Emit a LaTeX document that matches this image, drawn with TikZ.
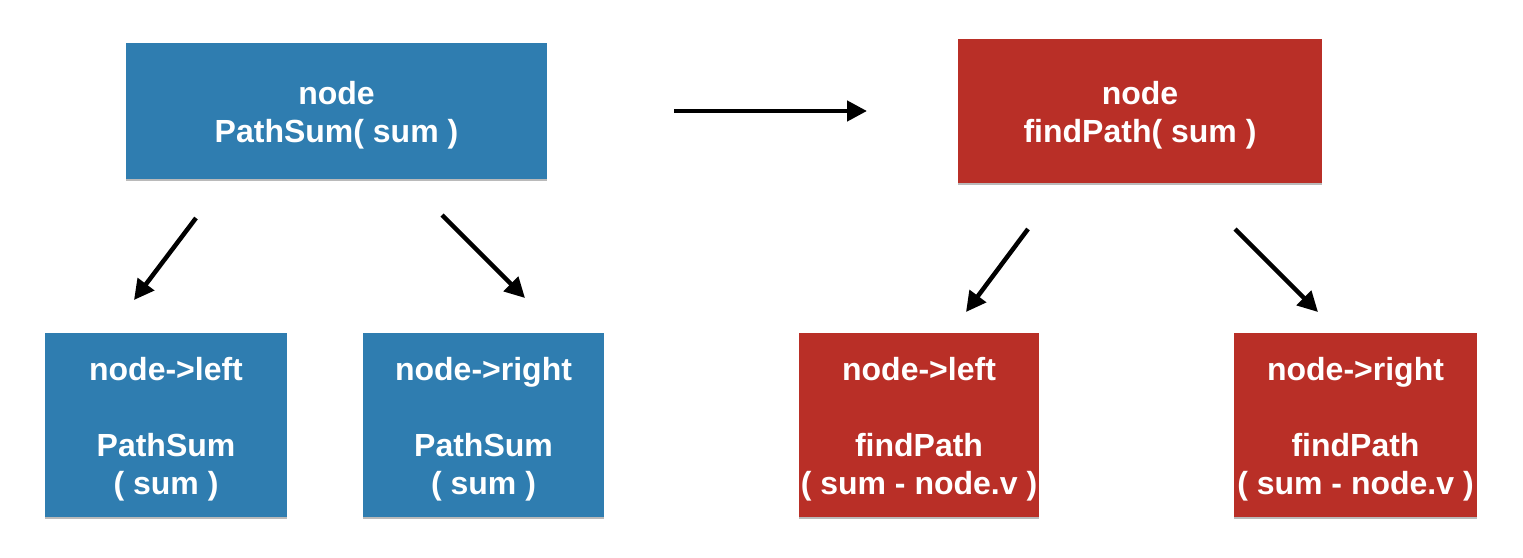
\documentclass[tikz,border=0pt]{standalone}
\usepackage{fontspec}
\setmainfont{Liberation Sans}
\usetikzlibrary{arrows.meta,shadows}
\definecolor{boxblue}{RGB}{47,125,176}
\definecolor{boxred}{RGB}{185,47,39}
\begin{document}
\begin{tikzpicture}[x=1pt,y=-1pt,
  box/.style={rectangle, inner sep=0pt,
    drop shadow={shadow xshift=0pt, shadow yshift=-1.5pt, opacity=0.45, fill=black!60}},
  bluebox/.style={box, fill=boxblue},
  redbox/.style={box, fill=boxred},
  txt/.style={inner sep=0pt, align=center, text=white,
    font=\fontsize{32}{38}\selectfont\bfseries},
  conn/.style={line width=4.5pt, -{Triangle[length=20pt,width=20pt]}}]
\useasboundingbox (0,0) rectangle (1523,557);
% top boxes
\node[bluebox, minimum width=421pt, minimum height=136pt] (bt) at (336.5,111) {};
\node[redbox, minimum width=364pt, minimum height=144pt] (rt) at (1140,111) {};
% bottom boxes
\node[bluebox, minimum width=242pt, minimum height=184pt] (bl) at (166,425) {};
\node[bluebox, minimum width=241pt, minimum height=184pt] (br) at (483.5,425) {};
\node[redbox, minimum width=240pt, minimum height=184pt] (rl) at (919,425) {};
\node[redbox, minimum width=243pt, minimum height=184pt] (rr) at (1355.5,425) {};
% texts
\node[txt] (btt) at ([yshift=-4pt]bt.center) {node\\PathSum( sum )};
\node[txt] (rtt) at ([yshift=-4pt]rt.center) {node\\findPath( sum )};
\node[txt] (blt) at ([yshift=-4pt]bl.center) {node->left\\[38pt]PathSum\\( sum )};
\node[txt] (brt) at ([yshift=-4pt]br.center) {node->right\\[38pt]PathSum\\( sum )};
\node[txt] (rlt) at ([yshift=-4pt]rl.center) {node->left\\[38pt]findPath\\( sum - node.v )};
\node[txt] (rrt) at ([yshift=-4pt]rr.center) {node->right\\[38pt]findPath\\( sum - node.v )};
% arrow end points
\coordinate (m1) at (674,111);
\coordinate (m2) at (867,111);
\coordinate (a1) at (196,218);
\coordinate (a2) at (134,300);
\coordinate (b1) at (442,215);
\coordinate (b2) at (525,298);
\coordinate (c1) at (1028,229);
\coordinate (c2) at (966,312);
\coordinate (d1) at (1235,229);
\coordinate (d2) at (1318,312);
\draw[conn] (m1) -- (m2);
\draw[conn] (a1) -- (a2);
\draw[conn] (b1) -- (b2);
\draw[conn] (c1) -- (c2);
\draw[conn] (d1) -- (d2);
\end{tikzpicture}
\end{document}
